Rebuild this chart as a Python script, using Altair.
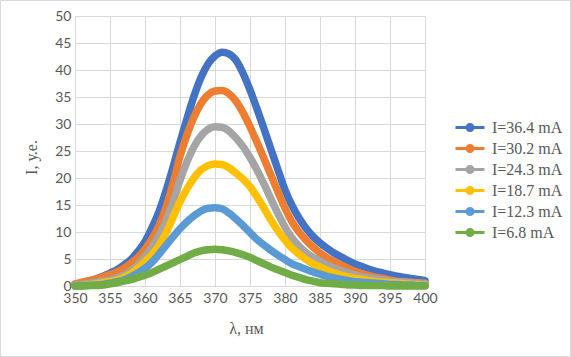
import altair as alt
import pandas as pd

wavelength = list(range(350, 401))
x_ticks = [350, 355, 360, 365, 370, 375, 380, 385, 390, 395, 400]
y_ticks = [0, 5, 10, 15, 20, 25, 30, 35, 40, 45, 50]

series_names = ["I=36.4 mA", "I=30.2 mA", "I=24.3 mA", "I=18.7 mA", "I=12.3 mA", "I=6.8 mA"]
colors = ["#4472C4", "#ED7D31", "#A5A5A5", "#FFC000", "#5B9BD5", "#70AD47"]

i_364 = [0.3, 0.6, 0.9, 1.3, 1.8, 2.4, 3.0, 3.9, 4.9, 6.4,
         8.2, 10.8, 13.8, 17.6, 22.0, 26.6, 31.0, 35.2, 38.6, 41.1,
         42.6, 43.3, 43.0, 41.8, 39.4, 36.3, 32.8, 29.1, 25.3, 21.5,
         17.8, 14.9, 12.6, 10.7, 9.2, 8.0, 7.0, 6.1, 5.4, 4.7,
         4.1, 3.6, 3.1, 2.7, 2.4, 2.1, 1.8, 1.6, 1.4, 1.2, 1.0]
i_302 = [0.4, 0.7, 1.0, 1.3, 1.7, 2.1, 2.6, 3.3, 4.2, 5.3,
         6.8, 8.7, 11.2, 14.5, 19.0, 24.0, 28.0, 31.3, 33.8, 35.4,
         36.1, 36.2, 35.6, 34.2, 32.1, 29.5, 26.6, 23.6, 20.5, 17.4,
         14.4, 11.9, 10.0, 8.5, 7.2, 6.1, 5.2, 4.5, 3.9, 3.3,
         2.7, 2.3, 1.9, 1.6, 1.4, 1.1, 0.9, 0.8, 0.7, 0.6, 0.5]
i_243 = [0.2, 0.3, 0.5, 0.7, 0.9, 1.1, 1.5, 2.0, 2.8, 3.9,
         5.4, 7.2, 9.3, 12.0, 15.5, 19.6, 23.0, 25.8, 27.8, 29.0,
         29.5, 29.4, 28.7, 27.4, 25.8, 23.8, 21.5, 18.9, 16.1, 13.4,
         10.9, 8.9, 7.4, 6.2, 5.3, 4.6, 3.9, 3.3, 2.8, 2.4,
         2.0, 1.7, 1.5, 1.3, 1.1, 0.9, 0.8, 0.7, 0.6, 0.5, 0.4]
i_187 = [0.0, 0.1, 0.2, 0.4, 0.6, 0.8, 1.1, 1.6, 2.3, 3.3,
         4.5, 5.8, 7.5, 9.8, 12.7, 15.6, 18.0, 20.0, 21.5, 22.3,
         22.6, 22.5, 21.9, 20.9, 19.8, 18.4, 16.5, 14.4, 12.2, 10.2,
         8.5, 7.0, 5.9, 4.9, 4.1, 3.5, 2.9, 2.4, 2.0, 1.7,
         1.4, 1.2, 1.0, 0.8, 0.7, 0.6, 0.5, 0.4, 0.3, 0.3, 0.2]
i_123 = [0.0, 0.1, 0.1, 0.2, 0.3, 0.5, 0.8, 1.1, 1.7, 2.4,
         3.3, 4.4, 5.9, 7.5, 9.1, 10.6, 11.9, 13.0, 13.9, 14.4,
         14.5, 14.3, 13.5, 12.4, 11.2, 9.9, 8.6, 7.6, 6.6, 5.7,
         4.9, 4.1, 3.6, 3.1, 2.6, 2.2, 1.8, 1.5, 1.2, 1.0,
         0.8, 0.7, 0.6, 0.5, 0.4, 0.3, 0.3, 0.2, 0.2, 0.1, 0.1]
i_68 = [0.0, 0.0, 0.1, 0.1, 0.2, 0.4, 0.6, 0.9, 1.2, 1.6,
        2.0, 2.5, 3.1, 3.7, 4.3, 4.9, 5.5, 6.1, 6.5, 6.7,
        6.8, 6.7, 6.5, 6.2, 5.8, 5.3, 4.7, 4.1, 3.5, 3.0,
        2.5, 2.0, 1.6, 1.2, 0.9, 0.6, 0.5, 0.4, 0.3, 0.2,
        0.2, 0.1, 0.1, 0.1, 0.1, 0.0, 0.0, 0.0, 0.0, 0.0, 0.0]

rows = []
for name, vals in zip(series_names, [i_364, i_302, i_243, i_187, i_123, i_68]):
    for w, v in zip(wavelength, vals):
        rows.append({"wl": w, "I": v, "series": name})
df = pd.DataFrame(rows)

legend_path = ("M-1,0L1,0"
               "M-0.1,0A0.1,0.1,0,1,1,0.1,0A0.1,0.1,0,1,1,-0.1,0"
               "M-0.207,0A0.207,0.207,0,1,1,0.207,0A0.207,0.207,0,1,1,-0.207,0")

border = alt.Chart(pd.DataFrame({"a": [0]})).mark_rect(
    fillOpacity=0, stroke="#d9d9d9", strokeWidth=1
).encode(
    x=alt.value(-74.5), x2=alt.value(495.5), y=alt.value(-15.5), y2=alt.value(340.5)
)

lines = alt.Chart(df).mark_line(
    strokeWidth=7.5, strokeCap="round", strokeJoin="round", interpolate="monotone"
).encode(
    x=alt.X("wl:Q",
            scale=alt.Scale(domain=[350, 400], nice=False, zero=False),
            axis=alt.Axis(values=x_ticks, title="λ, нм", titleX=171, titleY=42,
                          titleBaseline="middle", domain=True, domainColor="#d9d9d9",
                          labelPadding=5, labelOverlap=False, labelFlush=False,
                          labelBound=False)),
    y=alt.Y("I:Q",
            scale=alt.Scale(domain=[0, 50], nice=False),
            axis=alt.Axis(values=y_ticks, title="I, у.е.", titleX=-44, titleY=141,
                          titleBaseline="middle", domain=False, labelPadding=4,
                          labelOverlap=False, labelFlush=False)),
    color=alt.Color("series:N",
                    scale=alt.Scale(domain=series_names, range=colors),
                    title=None,
                    legend=alt.Legend(orient="none", legendX=379, legendY=101,
                                      symbolType=legend_path, symbolSize=841,
                                      symbolStrokeWidth=3, clipHeight=21,
                                      rowPadding=0, labelOffset=6,
                                      labelFont="Liberation Serif", labelFontSize=16,
                                      labelColor="#595959", labelBaseline="middle")),
)

chart = alt.layer(border, lines).properties(
    width=350, height=270,
    autosize=alt.AutoSizeParams(type="none"),
    padding={"left": 75, "top": 16, "right": 146, "bottom": 71},
    background="white",
).configure_view(stroke=None).configure_axis(
    grid=True, gridColor="#d9d9d9", gridWidth=1, ticks=False,
    labelFont="Lato", labelFontSize=14, labelColor="#595959",
    titleFont="Liberation Serif", titleFontSize=16, titleFontWeight="normal",
    titleColor="#595959",
)

chart.save("out.html", embed_options={"renderer": "svg", "actions": False})
